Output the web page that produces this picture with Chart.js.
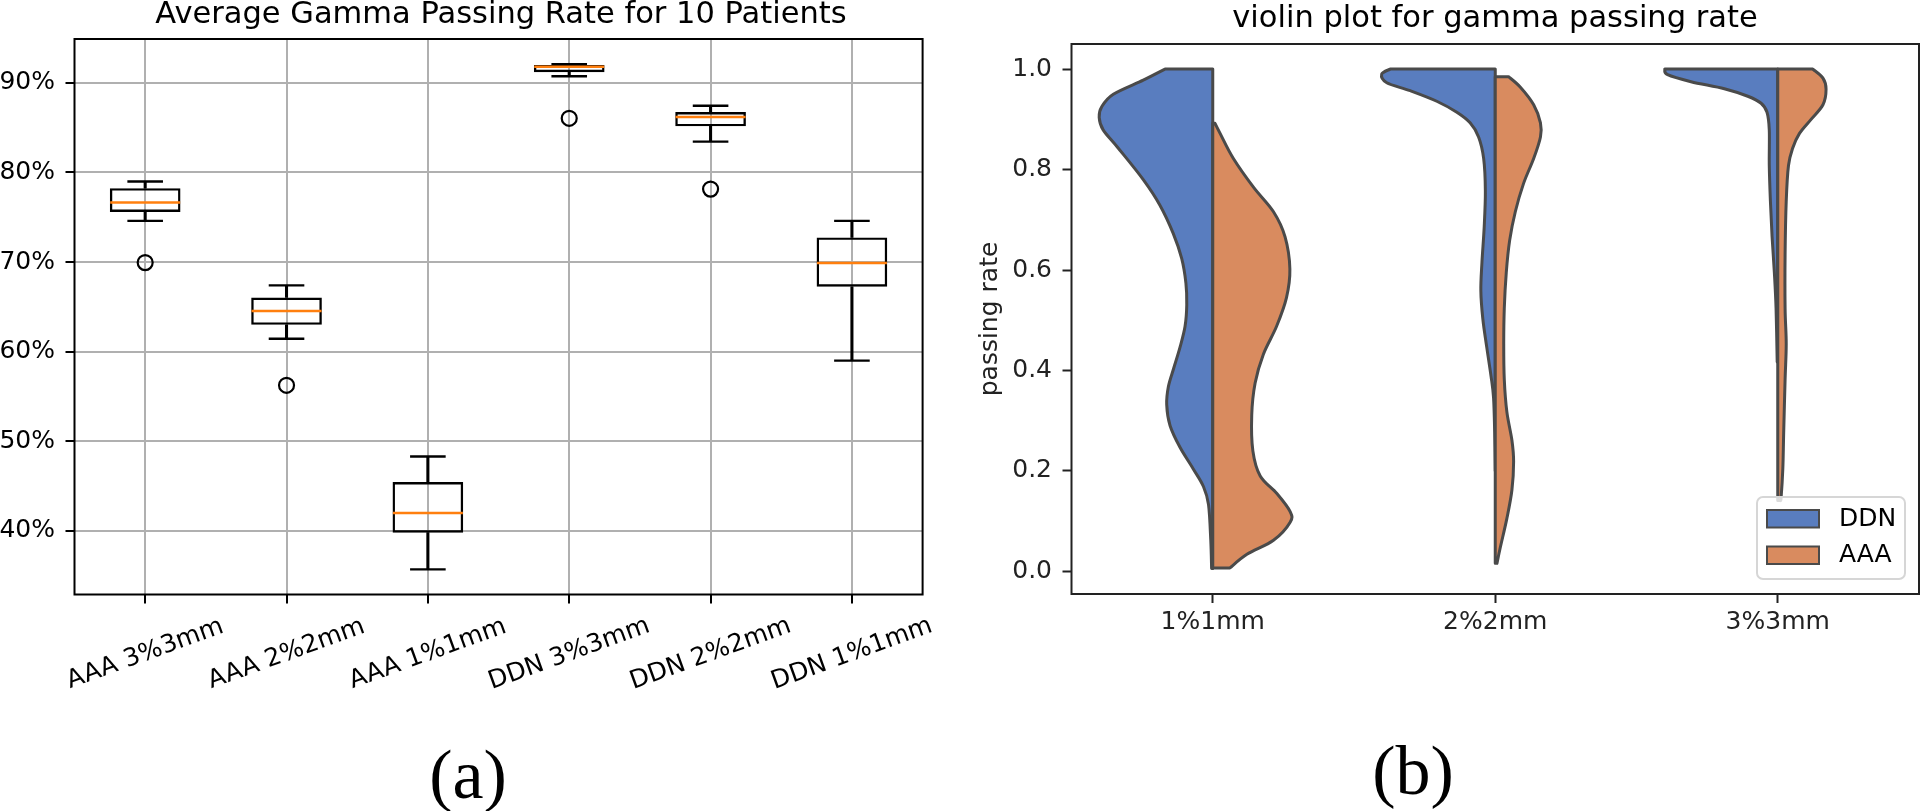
<!DOCTYPE html>
<html>
<head>
<meta charset="utf-8">
<script src="https://cdn.jsdelivr.net/npm/chart.js@4.4.1/dist/chart.umd.min.js"></script>
<style>
  body { margin: 0; background: #fff; width: 1921px; height: 811px; overflow: hidden; position: relative; }
  canvas { position: absolute; top: 0; }
  .title { position: absolute; font-family: "DejaVu Sans"; font-size: 30.5px; line-height: 30.5px; text-align: center; color: #000; white-space: nowrap; }
  .caption { position: absolute; font-family: "Liberation Serif"; font-size: 70px; line-height: 70px; text-align: center; color: #000; }
</style>
</head>
<body>
<canvas id="boxChart" width="960" height="811" style="left:0"></canvas>
<canvas id="violinChart" width="961" height="811" style="left:960px"></canvas>
<div class="title" style="left:101px; width:800px; top:-2px">Average Gamma Passing Rate for 10 Patients</div>
<div class="title" style="left:1095px; width:800px; top:1.5px">violin plot for gamma passing rate</div>
<div class="caption" style="left:368px; width:200px; top:740px">(a)</div>
<div class="caption" style="left:1313px; width:200px; top:736px">(b)</div>
<script>
// ---- box plot data (percent) ----
const boxCategories = ['AAA 3%3mm', 'AAA 2%2mm', 'AAA 1%1mm', 'DDN 3%3mm', 'DDN 2%2mm', 'DDN 1%1mm'];
const whiskerLow  = [74.6, 61.45, 35.7, 90.75, 83.45, 59.0];
const q1          = [75.6, 63.0, 39.8, 91.2, 85.15, 67.25];
const median      = [76.65, 64.55, 42.0, 91.8, 86.2, 69.9];
const q3          = [78.25, 66.05, 45.45, 92.0, 86.75, 72.75];
const whiskerHigh = [79.0, 67.4, 48.3, 92.1, 87.45, 74.6];
const outliers    = [69.95, 56.25, null, 86.05, 78.15, null];
const boxYTicks = [40, 50, 60, 70, 80, 90];

// ---- violin data: passing rate levels and half widths (in category units) ----
const violinCategories = ['1%1mm', '2%2mm', '3%3mm'];
const violinYTicks = [0, 0.2, 0.4, 0.6, 0.8, 1.0];

const ddn1Rate  = [1.0, 0.978, 0.95, 0.925, 0.904, 0.879, 0.843, 0.78, 0.73, 0.673, 0.623, 0.574, 0.531, 0.488, 0.446, 0.403, 0.368, 0.332, 0.29, 0.247, 0.204, 0.169, 0.133, 0.062, 0.006];
const ddn1Width = [0.169, 0.246, 0.352, 0.393, 0.402, 0.388, 0.335, 0.246, 0.188, 0.14, 0.11, 0.095, 0.092, 0.098, 0.116, 0.139, 0.157, 0.163, 0.151, 0.116, 0.069, 0.033, 0.015, 0.007, 0.004];
const aaa1Rate  = [0.892, 0.872, 0.822, 0.765, 0.716, 0.666, 0.602, 0.545, 0.488, 0.432, 0.375, 0.311, 0.24, 0.19, 0.155, 0.119, 0.098, 0.062, 0.034, 0.007];
const aaa1Width = [0.008, 0.026, 0.073, 0.144, 0.215, 0.256, 0.273, 0.261, 0.226, 0.179, 0.15, 0.138, 0.142, 0.168, 0.227, 0.274, 0.274, 0.215, 0.121, 0.061];

const ddn2Rate  = [1.0, 0.99, 0.973, 0.957, 0.936, 0.914, 0.893, 0.865, 0.822, 0.758, 0.687, 0.616, 0.559, 0.503, 0.446, 0.389, 0.346, 0.276, 0.2];
const ddn2Width = [0.372, 0.402, 0.384, 0.301, 0.207, 0.136, 0.089, 0.059, 0.041, 0.035, 0.039, 0.047, 0.051, 0.044, 0.03, 0.015, 0.006, 0.002, 0.0];
const aaa2Rate  = [0.985, 0.964, 0.929, 0.893, 0.865, 0.822, 0.772, 0.716, 0.659, 0.595, 0.524, 0.453, 0.382, 0.318, 0.261, 0.219, 0.162, 0.105, 0.048, 0.016];
const aaa2Width = [0.047, 0.089, 0.136, 0.16, 0.16, 0.136, 0.1, 0.071, 0.051, 0.039, 0.032, 0.03, 0.032, 0.041, 0.059, 0.065, 0.059, 0.041, 0.018, 0.006];

const ddn3Rate  = [1.0, 0.989, 0.975, 0.961, 0.946, 0.932, 0.914, 0.879, 0.808, 0.737, 0.666, 0.595, 0.524, 0.417];
const ddn3Width = [0.4, 0.39, 0.307, 0.189, 0.106, 0.059, 0.038, 0.03, 0.03, 0.026, 0.02, 0.012, 0.006, 0.002];
const aaa3Rate  = [1.0, 0.982, 0.96, 0.929, 0.9, 0.872, 0.843, 0.808, 0.737, 0.631, 0.524, 0.453, 0.382, 0.276, 0.205, 0.148, 0.141];
const aaa3Width = [0.124, 0.16, 0.171, 0.16, 0.118, 0.077, 0.053, 0.038, 0.03, 0.026, 0.026, 0.03, 0.026, 0.021, 0.018, 0.012, 0.009];

const ddnRates = [ddn1Rate, ddn2Rate, ddn3Rate];
const ddnWidths = [ddn1Width, ddn2Width, ddn3Width];
const aaaRates = [aaa1Rate, aaa2Rate, aaa3Rate];
const aaaWidths = [aaa1Width, aaa2Width, aaa3Width];

const DDN_COLOR = '#597dbf';
const AAA_COLOR = '#d98b5f';
const EDGE = '#4a4a4a';

Chart.defaults.font.family = 'DejaVu Sans';
Chart.defaults.font.size = 25;
Chart.defaults.color = '#000';
Chart.defaults.animation = false;

// frame around the plot area (all four spines)
const frame = {
  id: 'frame',
  afterDraw(chart, args, opts) {
    const {ctx, chartArea: a} = chart;
    ctx.save();
    ctx.strokeStyle = opts.color || '#000';
    ctx.lineWidth = 2;
    ctx.strokeRect(a.left, a.top, a.right - a.left, a.bottom - a.top);
    ctx.restore();
  }
};

// rotated, centred category labels like matplotlib's rotation=20
const slantLabels = {
  id: 'slantLabels',
  afterDraw(chart) {
    const {ctx, chartArea} = chart;
    const x = chart.scales.x;
    ctx.save();
    ctx.font = '25px "DejaVu Sans"';
    ctx.fillStyle = '#000';
    ctx.textAlign = 'center';
    ctx.textBaseline = 'middle';
    boxCategories.forEach((lab, i) => {
      ctx.save();
      ctx.translate(x.getPixelForTick(i), chartArea.bottom + 59.5);
      ctx.rotate(-20 * Math.PI / 180);
      ctx.fillText(lab, 0, 0);
      ctx.restore();
    });
    ctx.restore();
  }
};

new Chart(document.getElementById('boxChart'), {
  type: 'bar',
  data: {
    labels: boxCategories,
    datasets: [
      { data: whiskerLow.map((v, i) => [v, q1[i]]), backgroundColor: '#000', barThickness: 2.4, grouped: false, order: 3 },
      { data: q3.map((v, i) => [v, whiskerHigh[i]]), backgroundColor: '#000', barThickness: 2.4, grouped: false, order: 3 },
      { data: q1.map((v, i) => [v, q3[i]]), backgroundColor: 'rgba(0,0,0,0)', borderColor: '#000', borderWidth: 2.4,
        borderSkipped: false, barPercentage: 0.5, categoryPercentage: 1, grouped: false, order: 2 },
      { type: 'line', data: whiskerLow, showLine: false, pointStyle: 'line', pointRadius: 17.8,
        pointBorderColor: '#000', pointBorderWidth: 2.4, order: 1 },
      { type: 'line', data: whiskerHigh, showLine: false, pointStyle: 'line', pointRadius: 17.8,
        pointBorderColor: '#000', pointBorderWidth: 2.4, order: 1 },
      { type: 'line', data: median, showLine: false, pointStyle: 'line', pointRadius: 35,
        pointBorderColor: '#ff7f0e', pointBorderWidth: 2.4, order: 0 },
      { type: 'line', data: outliers, showLine: false, pointStyle: 'circle', pointRadius: 7.5,
        pointBackgroundColor: 'rgba(0,0,0,0)', pointBorderColor: '#000', pointBorderWidth: 2.2, order: 0 }
    ]
  },
  options: {
    responsive: false,
    events: [],
    layout: { padding: { left: 0, right: 31.5, top: 39, bottom: 0 } },
    plugins: { legend: { display: false }, tooltip: { enabled: false }, frame: { color: '#000' } },
    scales: {
      x: {
        offset: true,
        grid: { offset: false, color: '#b0b0b0', lineWidth: 2, tickLength: 9, tickColor: '#000', tickWidth: 2 },
        border: { display: false },
        ticks: { display: false },
        afterFit: s => { s.height = 811 - 594.5; }
      },
      y: {
        min: 32.9,
        max: 94.9,
        afterBuildTicks: s => { s.ticks = boxYTicks.map(v => ({ value: v })); },
        grid: { color: '#b0b0b0', lineWidth: 2, tickLength: 9, tickColor: '#000', tickWidth: 2 },
        border: { display: false },
        ticks: { padding: 10.5, callback: v => v + '%' },
        afterFit: s => { s.width = 74.5; }
      }
    }
  },
  plugins: [frame, slantLabels]
});

// smooth outline through points (Catmull-Rom as bezier segments)
function curveThrough(ctx, pts) {
  for (let i = 0; i < pts.length - 1; i++) {
    const p0 = pts[i - 1] || pts[i], p1 = pts[i], p2 = pts[i + 1], p3 = pts[i + 2] || p2;
    ctx.bezierCurveTo(p1.x + (p2.x - p0.x) / 6, p1.y + (p2.y - p0.y) / 6,
                      p2.x - (p3.x - p1.x) / 6, p2.y - (p3.y - p1.y) / 6, p2.x, p2.y);
  }
}

function drawHalf(ctx, xs, ys, cat, rates, widths, side, color) {
  const cx = xs.getPixelForValue(cat);
  const pts = rates.map((r, k) => ({ x: xs.getPixelForValue(cat + side * widths[k]), y: ys.getPixelForValue(r) }));
  ctx.beginPath();
  ctx.moveTo(cx, pts[0].y);
  ctx.lineTo(pts[0].x, pts[0].y);
  curveThrough(ctx, pts);
  ctx.lineTo(cx, pts[pts.length - 1].y);
  ctx.closePath();
  ctx.fillStyle = color;
  ctx.fill();
  ctx.stroke();
}

const violins = {
  id: 'violins',
  afterDatasetsDraw(chart) {
    const {ctx} = chart;
    const xs = chart.scales.x, ys = chart.scales.y;
    ctx.save();
    ctx.strokeStyle = EDGE;
    ctx.lineWidth = 3;
    ctx.lineJoin = 'round';
    violinCategories.forEach((c, i) => {
      drawHalf(ctx, xs, ys, i, ddnRates[i], ddnWidths[i], -1, DDN_COLOR);
      drawHalf(ctx, xs, ys, i, aaaRates[i], aaaWidths[i], 1, AAA_COLOR);
    });
    ctx.restore();
  },
  afterDraw(chart) {
    const {ctx, chartArea: a} = chart;
    const R = a.right, B = a.bottom;
    ctx.save();
    // legend box
    ctx.beginPath();
    ctx.roundRect(R - 162, B - 97, 148, 82, 6);
    ctx.fillStyle = 'rgba(255,255,255,0.8)';
    ctx.fill();
    ctx.strokeStyle = '#d6d6d6';
    ctx.lineWidth = 2;
    ctx.stroke();
    const items = [['DDN', DDN_COLOR, B - 84], ['AAA', AAA_COLOR, B - 47.5]];
    ctx.font = '25px "DejaVu Sans"';
    ctx.textBaseline = 'middle';
    ctx.textAlign = 'left';
    items.forEach(([name, col, y]) => {
      ctx.fillStyle = col;
      ctx.fillRect(R - 152, y, 52, 17.5);
      ctx.strokeStyle = EDGE;
      ctx.lineWidth = 2;
      ctx.strokeRect(R - 152, y, 52, 17.5);
      ctx.fillStyle = '#000';
      ctx.fillText(name, R - 80, y + 9);
    });
    ctx.restore();
  }
};

new Chart(document.getElementById('violinChart'), {
  type: 'scatter',
  data: {
    datasets: [
      { label: 'DDN', data: [], backgroundColor: DDN_COLOR },
      { label: 'AAA', data: [], backgroundColor: AAA_COLOR }
    ]
  },
  options: {
    responsive: false,
    events: [],
    layout: { padding: { left: 0, right: 2, top: 44, bottom: 0 } },
    plugins: { legend: { display: false }, tooltip: { enabled: false }, frame: { color: '#222' } },
    scales: {
      x: {
        type: 'linear',
        min: -0.5,
        max: 2.5,
        afterBuildTicks: s => { s.ticks = violinCategories.map((c, i) => ({ value: i })); },
        grid: { drawOnChartArea: false, tickLength: 9, tickColor: '#222', tickWidth: 2 },
        border: { display: false },
        ticks: { padding: 4.5, color: '#222', callback: v => violinCategories[v] },
        afterFit: s => { s.height = 811 - 594; }
      },
      y: {
        min: -0.045,
        max: 1.05,
        afterBuildTicks: s => { s.ticks = violinYTicks.map(v => ({ value: v })); },
        grid: { drawOnChartArea: false, tickLength: 9, tickColor: '#222', tickWidth: 2 },
        border: { display: false },
        ticks: { padding: 10.5, color: '#222', callback: v => v.toFixed(1) },
        title: { display: true, text: 'passing rate', color: '#222', font: { size: 25 }, padding: { top: 15, bottom: 0 } },
        afterFit: s => { s.width = 111.5; }
      }
    }
  },
  plugins: [violins, frame]
});
</script>
</body>
</html>
